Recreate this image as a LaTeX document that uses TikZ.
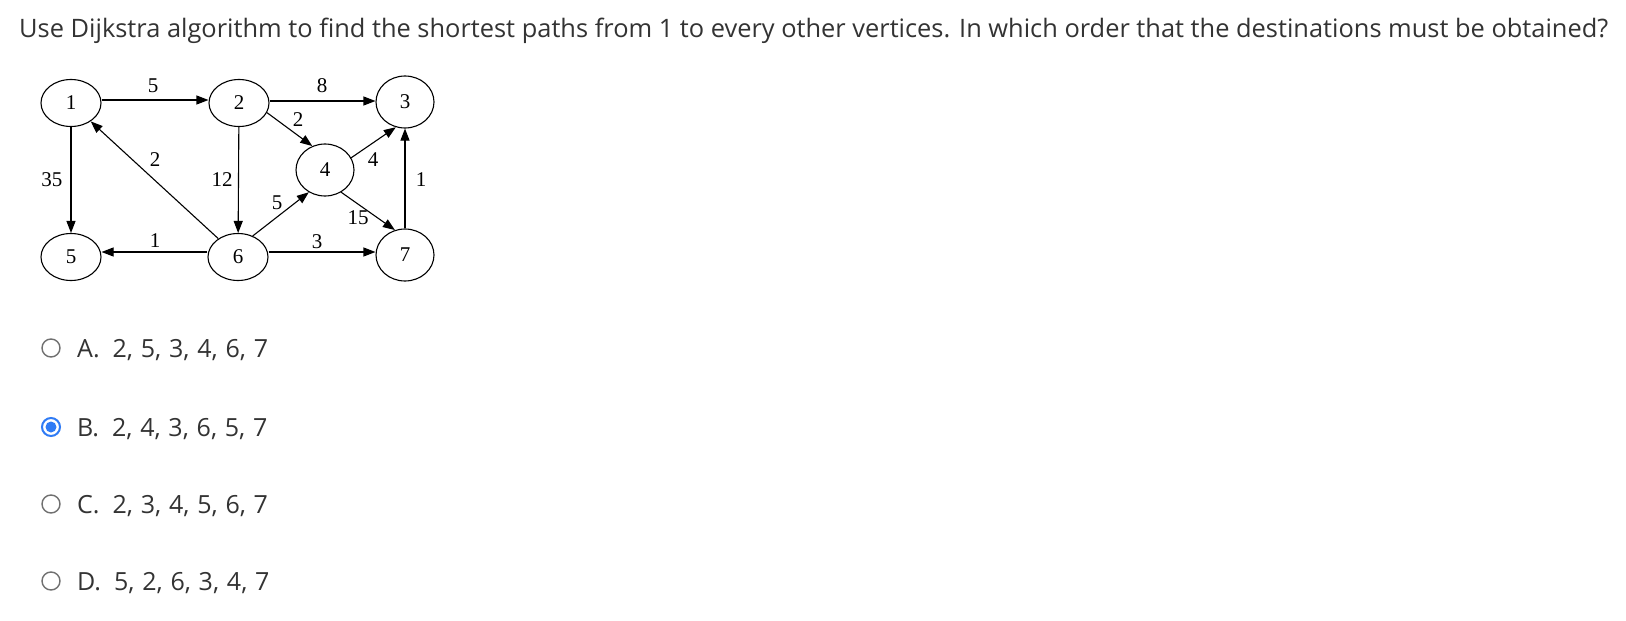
\documentclass[tikz,border=0pt]{standalone}
\usepackage{fontspec}
\setmainfont{Liberation Serif}
\newfontfamily\qfont{Open Sans}
\usetikzlibrary{arrows.meta,shapes.geometric}
\definecolor{qtext}{HTML}{333333}
\definecolor{radiogrey}{HTML}{707070}
\definecolor{radioblue}{HTML}{2F7BF5}
\newcommand\optsep{,\hspace{7.8pt}}
\begin{document}
\begin{tikzpicture}[x=1pt,y=-1pt,
  vert/.style={draw, ellipse, line width=1.1pt, minimum width=60pt, minimum height=47pt, inner sep=0pt, font=\fontsize{21}{23}\selectfont},
  vertb/.style={vert, minimum width=58pt, minimum height=52pt},
  edge/.style={draw, line width=1.1pt, -{Triangle[length=12pt,width=9pt]}},
  wlab/.style={inner sep=0pt, font=\fontsize{21}{23}\selectfont},
  qtxt/.style={inner sep=0pt, anchor=base west, text=qtext, font=\qfont\fontsize{25}{28}\selectfont},
  radio/.style={draw=radiogrey, line width=1.4pt, circle, minimum size=18pt, inner sep=0pt},
  radioon/.style={draw=radioblue, line width=2pt, circle, minimum size=18pt, inner sep=0pt},
]
\useasboundingbox (0,0) rectangle (1626,621);
\fill[white] (0,0) rectangle (1626,621);

% question
\node[qtxt, font=\qfont\fontsize{25.4}{30}\selectfont] (q) at (19,37) {Use Dijkstra algorithm to find the shortest paths from 1 to every other vertices. In which order that the destinations must be obtained?};

% vertices
\node[vert] (v1) at (71,103) {1};
\node[vert] (v2) at (239,103) {2};
\node[vertb] (v3) at (405,102) {3};
\node[vertb] (v4) at (325,170) {4};
\node[vert] (v5) at (71,257) {5};
\node[vert] (v6) at (238,257) {6};
\node[vertb] (v7) at (405,255) {7};

% edges
\draw[edge] ([yshift=3pt]v1.east) -- ([yshift=3pt]v2.west);
\draw[edge] ([yshift=2pt]v2.east) -- ([yshift=1pt]v3.west);
\draw[edge] (v2.341) -- (v4.118);
\draw[edge] (v1) -- (v5);
\draw[edge] (v6.137) -- (v1.317);
\draw[edge] (v2) -- (v6);
\draw[edge] ([yshift=5pt]v6.west) -- ([yshift=5pt]v5.east);
\draw[edge] (v6.55) -- (v4.234);
\draw[edge] (v4.25) -- (v3.250);
\draw[edge] (v4.306) -- (v7.112);
\draw[edge] (v7) -- (v3);
\draw[edge] ([yshift=5pt]v6.east) -- ([yshift=3pt]v7.west);

% weights
\node[wlab] (w12) at (153,86) {5};
\node[wlab] (w23) at (322,86) {8};
\node[wlab] (w24) at (298,120) {2};
\node[wlab] (w15) at (52,180) {35};
\node[wlab] (w61) at (155,160) {2};
\node[wlab] (w26) at (222,180) {12};
\node[wlab] (w65) at (155,241) {1};
\node[wlab] (w64) at (277,203) {5};
\node[wlab] (w43) at (373,160) {4};
\node[wlab] (w47) at (358,218) {15};
\node[wlab] (w73) at (421,180) {1};
\node[wlab] (w67) at (317,242) {3};

% options
\node[radio] (ra) at (51,348) {};
\node[qtxt] (oa) at (77,357) {A.\ \ 2\optsep 5\optsep 3\optsep 4\optsep 6\optsep 7};
\node[radioon] (rb) at (51,427) {};
\fill[radioblue] (rb.center) circle (5.5pt);
\node[qtxt] (ob) at (77,436) {B.\ \ 2\optsep 4\optsep 3\optsep 6\optsep 5\optsep 7};
\node[radio] (rc) at (51,504) {};
\node[qtxt] (oc) at (77,513) {C.\ \ 2\optsep 3\optsep 4\optsep 5\optsep 6\optsep 7};
\node[radio] (rd) at (51,581) {};
\node[qtxt] (od) at (77,590) {D.\ \ 5\optsep 2\optsep 6\optsep 3\optsep 4\optsep 7};
\end{tikzpicture}
\end{document}
